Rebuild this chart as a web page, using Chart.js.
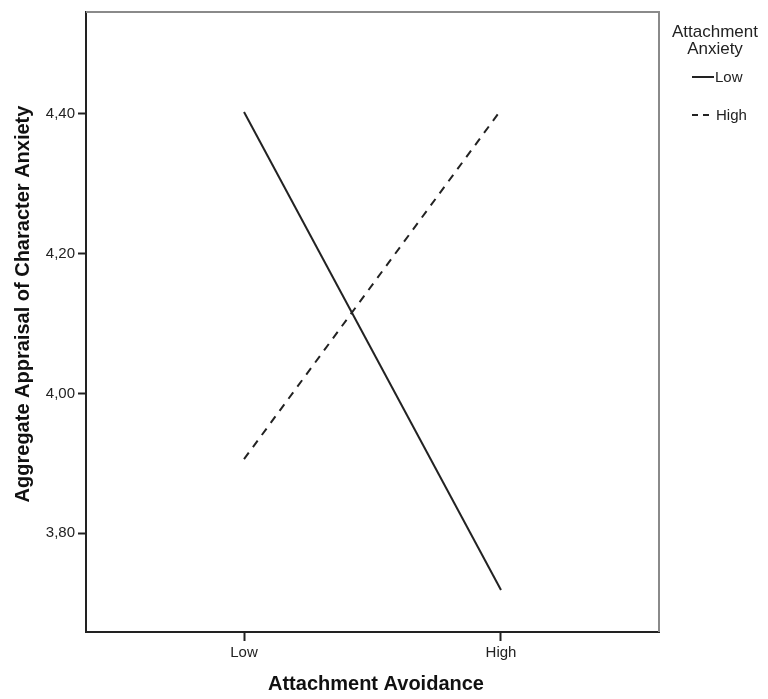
<!DOCTYPE html>
<html>
<head>
<meta charset="utf-8">
<script src="https://cdn.jsdelivr.net/npm/chart.js@4/dist/chart.umd.min.js"></script>
<style>
  body { margin: 0; background: #fff; }
  #wrap { width: 768px; height: 699px; position: relative; }
</style>
</head>
<body>
<div id="wrap"><canvas id="plot"></canvas></div>
<script>
// values
const avoidanceLevels = ['Low', 'High'];
const anxietyLow = [4.402, 3.719];
const anxietyHigh = [3.906, 4.405];
const yTicks = [3.8, 4.0, 4.2, 4.4];
const legendTitle = ['Attachment', 'Anxiety'];
const legendLabels = ['Low', 'High'];

Chart.defaults.font.family = "Arial, 'Liberation Sans', sans-serif";
Chart.defaults.color = '#222';

const toPoints = vals => avoidanceLevels.map((c, i) => ({x: i, y: vals[i]}));

// box edges, axis titles and the legend
const extras = {
  id: 'extras',
  afterDraw(chart) {
    const ctx = chart.ctx, a = chart.chartArea;
    ctx.save();
    ctx.strokeStyle = '#8a8a8a';
    ctx.lineWidth = 2;
    ctx.beginPath();
    ctx.moveTo(a.left, a.top);
    ctx.lineTo(a.right, a.top);
    ctx.lineTo(a.right, a.bottom);
    ctx.stroke();

    ctx.fillStyle = '#111';
    ctx.font = "bold 20px Arial, 'Liberation Sans', sans-serif";
    ctx.textAlign = 'center';
    ctx.textBaseline = 'middle';
    ctx.fillText('Attachment Avoidance', 376, 684);
    ctx.save();
    ctx.translate(23, 304);
    ctx.rotate(-Math.PI / 2);
    ctx.fillText('Aggregate Appraisal of Character Anxiety', 0, 0);
    ctx.restore();

    ctx.fillStyle = '#222';
    ctx.font = "17px Arial, 'Liberation Sans', sans-serif";
    ctx.fillText(legendTitle[0], 715, 32);
    ctx.fillText(legendTitle[1], 715, 49);

    ctx.font = "15px Arial, 'Liberation Sans', sans-serif";
    ctx.textAlign = 'left';
    ctx.strokeStyle = '#222';
    ctx.lineWidth = 2;
    ctx.beginPath();
    ctx.moveTo(692, 77);
    ctx.lineTo(714, 77);
    ctx.stroke();
    ctx.fillText(legendLabels[0], 715, 78);
    ctx.setLineDash([6, 5]);
    ctx.beginPath();
    ctx.moveTo(692, 115);
    ctx.lineTo(709, 115);
    ctx.stroke();
    ctx.setLineDash([]);
    ctx.fillText(legendLabels[1], 716, 116);
    ctx.restore();
  }
};

new Chart(document.getElementById('plot'), {
  type: 'line',
  data: {
    datasets: [{
      label: legendLabels[0],
      data: toPoints(anxietyLow),
      borderColor: '#222',
      borderWidth: 2,
      pointRadius: 0
    }, {
      label: legendLabels[1],
      data: toPoints(anxietyHigh),
      borderColor: '#222',
      borderWidth: 2,
      borderDash: [8, 7],
      pointRadius: 0
    }]
  },
  options: {
    responsive: true,
    maintainAspectRatio: false,
    animation: false,
    layout: { padding: { left: 0, top: 11, right: 109, bottom: 0 } },
    plugins: { legend: { display: false }, tooltip: { enabled: false } },
    scales: {
      x: {
        type: 'linear',
        min: -0.615,
        max: 1.615,
        afterBuildTicks: s => { s.ticks = avoidanceLevels.map((c, i) => ({value: i})); },
        afterFit: s => { s.height = 67; },
        ticks: {
          callback: v => avoidanceLevels[v],
          font: { size: 15 },
          color: '#222',
          padding: 3,
          maxRotation: 0
        },
        grid: { drawOnChartArea: false, drawTicks: true, tickLength: 9, tickWidth: 2, color: '#222' },
        border: { color: '#222', width: 2 }
      },
      y: {
        min: 3.659,
        max: 4.545,
        afterBuildTicks: s => { s.ticks = yTicks.map(v => ({value: v})); },
        afterFit: s => { s.width = 86; },
        ticks: {
          callback: v => v.toFixed(2).replace('.', ','),
          font: { size: 15 },
          color: '#222',
          padding: 3
        },
        grid: { drawOnChartArea: false, drawTicks: true, tickLength: 8, tickWidth: 2, color: '#222' },
        border: { color: '#222', width: 2 }
      }
    }
  },
  plugins: [extras]
});
</script>
</body>
</html>
